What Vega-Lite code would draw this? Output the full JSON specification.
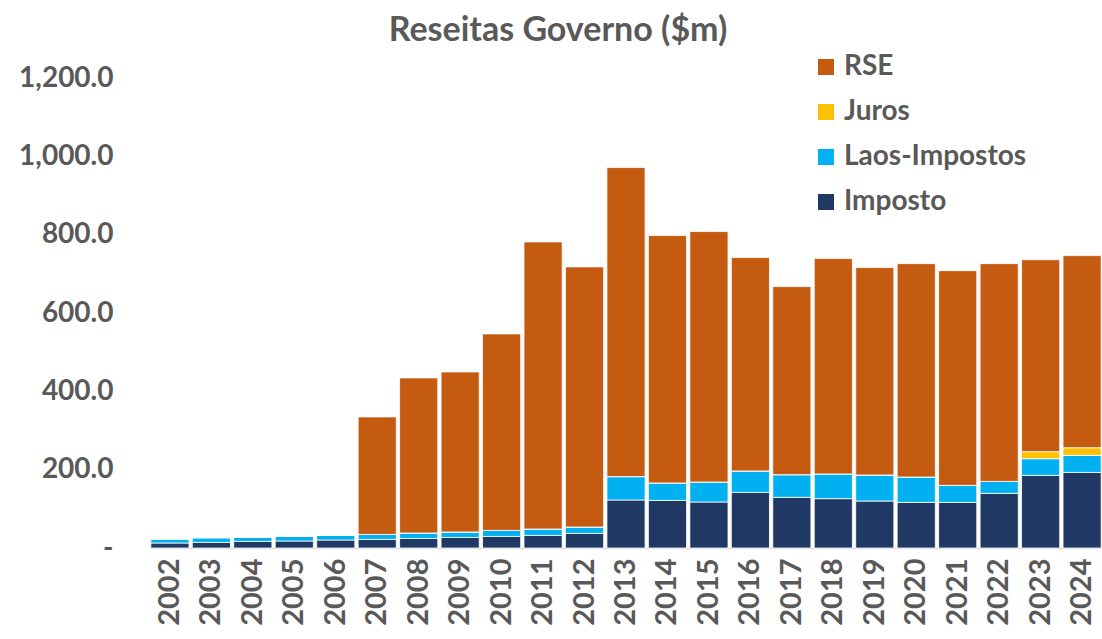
{
  "$schema": "https://vega.github.io/schema/vega-lite/v6.json",
  "autosize": {"type": "none"},
  "padding": {"left": 150, "top": 78, "right": 0, "bottom": 91},
  "width": 952,
  "height": 470,
  "background": "white",
  "config": {
    "view": {"stroke": null},
    "font": "Lato",
    "axis": {"labelColor": "#595959", "labelFont": "Lato", "labelFontWeight": "bold"},
    "legend": {"labelColor": "#595959", "labelFont": "Lato", "labelFontWeight": "bold"}
  },
  "title": {
    "text": "Reseitas Governo ($m)",
    "fontSize": 34,
    "fontWeight": "bold",
    "color": "#595959",
    "anchor": "middle",
    "dx": -68,
    "offset": 5
  },
  "data": {
    "values": [
      {"ano": "2002", "serie": "Imposto", "valor": 12.8},
      {"ano": "2002", "serie": "Laos-Impostos", "valor": 10.2},
      {"ano": "2002", "serie": "Juros", "valor": 0},
      {"ano": "2002", "serie": "RSE", "valor": 0},
      {"ano": "2003", "serie": "Imposto", "valor": 14.3},
      {"ano": "2003", "serie": "Laos-Impostos", "valor": 12.0},
      {"ano": "2003", "serie": "Juros", "valor": 0},
      {"ano": "2003", "serie": "RSE", "valor": 0},
      {"ano": "2004", "serie": "Imposto", "valor": 16.9},
      {"ano": "2004", "serie": "Laos-Impostos", "valor": 10.2},
      {"ano": "2004", "serie": "Juros", "valor": 0},
      {"ano": "2004", "serie": "RSE", "valor": 0},
      {"ano": "2005", "serie": "Imposto", "valor": 17.9},
      {"ano": "2005", "serie": "Laos-Impostos", "valor": 11.7},
      {"ano": "2005", "serie": "Juros", "valor": 0},
      {"ano": "2005", "serie": "RSE", "valor": 0},
      {"ano": "2006", "serie": "Imposto", "valor": 20.4},
      {"ano": "2006", "serie": "Laos-Impostos", "valor": 11.9},
      {"ano": "2006", "serie": "Juros", "valor": 0},
      {"ano": "2006", "serie": "RSE", "valor": 0},
      {"ano": "2007", "serie": "Imposto", "valor": 22.0},
      {"ano": "2007", "serie": "Laos-Impostos", "valor": 12.7},
      {"ano": "2007", "serie": "Juros", "valor": 0},
      {"ano": "2007", "serie": "RSE", "valor": 300.0},
      {"ano": "2008", "serie": "Imposto", "valor": 24.5},
      {"ano": "2008", "serie": "Laos-Impostos", "valor": 13.8},
      {"ano": "2008", "serie": "Juros", "valor": 0},
      {"ano": "2008", "serie": "RSE", "valor": 396.0},
      {"ano": "2009", "serie": "Imposto", "valor": 27.0},
      {"ano": "2009", "serie": "Laos-Impostos", "valor": 13.9},
      {"ano": "2009", "serie": "Juros", "valor": 0},
      {"ano": "2009", "serie": "RSE", "valor": 408.6},
      {"ano": "2010", "serie": "Imposto", "valor": 29.6},
      {"ano": "2010", "serie": "Laos-Impostos", "valor": 15.4},
      {"ano": "2010", "serie": "Juros", "valor": 0},
      {"ano": "2010", "serie": "RSE", "valor": 501.6},
      {"ano": "2011", "serie": "Imposto", "valor": 32.2},
      {"ano": "2011", "serie": "Laos-Impostos", "valor": 16.3},
      {"ano": "2011", "serie": "Juros", "valor": 0},
      {"ano": "2011", "serie": "RSE", "valor": 733.0},
      {"ano": "2012", "serie": "Imposto", "valor": 37.3},
      {"ano": "2012", "serie": "Laos-Impostos", "valor": 16.3},
      {"ano": "2012", "serie": "Juros", "valor": 0},
      {"ano": "2012", "serie": "RSE", "valor": 664.1},
      {"ano": "2013", "serie": "Imposto", "valor": 122.6},
      {"ano": "2013", "serie": "Laos-Impostos", "valor": 59.7},
      {"ano": "2013", "serie": "Juros", "valor": 0},
      {"ano": "2013", "serie": "RSE", "valor": 789.0},
      {"ano": "2014", "serie": "Imposto", "valor": 121.6},
      {"ano": "2014", "serie": "Laos-Impostos", "valor": 44.5},
      {"ano": "2014", "serie": "Juros", "valor": 0},
      {"ano": "2014", "serie": "RSE", "valor": 631.6},
      {"ano": "2015", "serie": "Imposto", "valor": 117.5},
      {"ano": "2015", "serie": "Laos-Impostos", "valor": 51.0},
      {"ano": "2015", "serie": "Juros", "valor": 0},
      {"ano": "2015", "serie": "RSE", "valor": 639.4},
      {"ano": "2016", "serie": "Imposto", "valor": 142.0},
      {"ano": "2016", "serie": "Laos-Impostos", "valor": 54.7},
      {"ano": "2016", "serie": "Juros", "valor": 0},
      {"ano": "2016", "serie": "RSE", "valor": 544.8},
      {"ano": "2017", "serie": "Imposto", "valor": 129.3},
      {"ano": "2017", "serie": "Laos-Impostos", "valor": 57.9},
      {"ano": "2017", "serie": "Juros", "valor": 0},
      {"ano": "2017", "serie": "RSE", "valor": 480.2},
      {"ano": "2018", "serie": "Imposto", "valor": 126.0},
      {"ano": "2018", "serie": "Laos-Impostos", "valor": 63.0},
      {"ano": "2018", "serie": "Juros", "valor": 0},
      {"ano": "2018", "serie": "RSE", "valor": 550.0},
      {"ano": "2019", "serie": "Imposto", "valor": 120.0},
      {"ano": "2019", "serie": "Laos-Impostos", "valor": 66.4},
      {"ano": "2019", "serie": "Juros", "valor": 0},
      {"ano": "2019", "serie": "RSE", "valor": 529.6},
      {"ano": "2020", "serie": "Imposto", "valor": 116.5},
      {"ano": "2020", "serie": "Laos-Impostos", "valor": 64.8},
      {"ano": "2020", "serie": "Juros", "valor": 0},
      {"ano": "2020", "serie": "RSE", "valor": 544.7},
      {"ano": "2021", "serie": "Imposto", "valor": 116.5},
      {"ano": "2021", "serie": "Laos-Impostos", "valor": 43.5},
      {"ano": "2021", "serie": "Juros", "valor": 0},
      {"ano": "2021", "serie": "RSE", "valor": 548.0},
      {"ano": "2022", "serie": "Imposto", "valor": 139.5},
      {"ano": "2022", "serie": "Laos-Impostos", "valor": 30.5},
      {"ano": "2022", "serie": "Juros", "valor": 0},
      {"ano": "2022", "serie": "RSE", "valor": 556.0},
      {"ano": "2023", "serie": "Imposto", "valor": 185.5},
      {"ano": "2023", "serie": "Laos-Impostos", "valor": 42.5},
      {"ano": "2023", "serie": "Juros", "valor": 18.0},
      {"ano": "2023", "serie": "RSE", "valor": 490.0},
      {"ano": "2024", "serie": "Imposto", "valor": 193.0},
      {"ano": "2024", "serie": "Laos-Impostos", "valor": 43.5},
      {"ano": "2024", "serie": "Juros", "valor": 19.5},
      {"ano": "2024", "serie": "RSE", "valor": 490.5}
    ]
  },
  "transform": [
    {"calculate": "indexof(['Imposto','Laos-Impostos','Juros','RSE'], datum.serie)", "as": "ordem"}
  ],
  "mark": {"type": "bar", "stroke": "white", "strokeWidth": 0.8},
  "encoding": {
    "x": {
      "field": "ano",
      "type": "ordinal",
      "title": null,
      "scale": {"paddingInner": 0.08, "paddingOuter": 0.02},
      "axis": {
        "labelAngle": 270,
        "labelAlign": "right",
        "labelBaseline": "middle",
        "labelFontSize": 29,
        "labelPadding": 10,
        "ticks": false,
        "domainColor": "#d9d9d9",
        "domainWidth": 1.5
      }
    },
    "y": {
      "field": "valor",
      "type": "quantitative",
      "aggregate": "sum",
      "stack": "zero",
      "title": null,
      "scale": {"domain": [0, 1200], "nice": false},
      "axis": {
        "values": [0, 200, 400, 600, 800, 1000, 1200],
        "labelExpr": "datum.value == 0 ? '-' : format(datum.value, ',.1f')",
        "labelFontSize": 28,
        "labelPadding": 37,
        "domain": false,
        "ticks": false,
        "grid": false
      }
    },
    "color": {
      "field": "serie",
      "type": "nominal",
      "sort": ["RSE", "Juros", "Laos-Impostos", "Imposto"],
      "scale": {
        "domain": ["RSE", "Juros", "Laos-Impostos", "Imposto"],
        "range": ["#C55A11", "#FFC000", "#00B0F0", "#203864"]
      },
      "legend": {
        "title": null,
        "orient": "none",
        "legendX": 662,
        "legendY": -25,
        "symbolType": "square",
        "symbolSize": 256,
        "symbolStrokeWidth": 0,
        "labelFontSize": 28,
        "labelLimit": 400,
        "rowPadding": 17,
        "labelOffset": 4
      }
    },
    "order": {"field": "ordem", "type": "quantitative", "sort": "ascending"}
  }
}
